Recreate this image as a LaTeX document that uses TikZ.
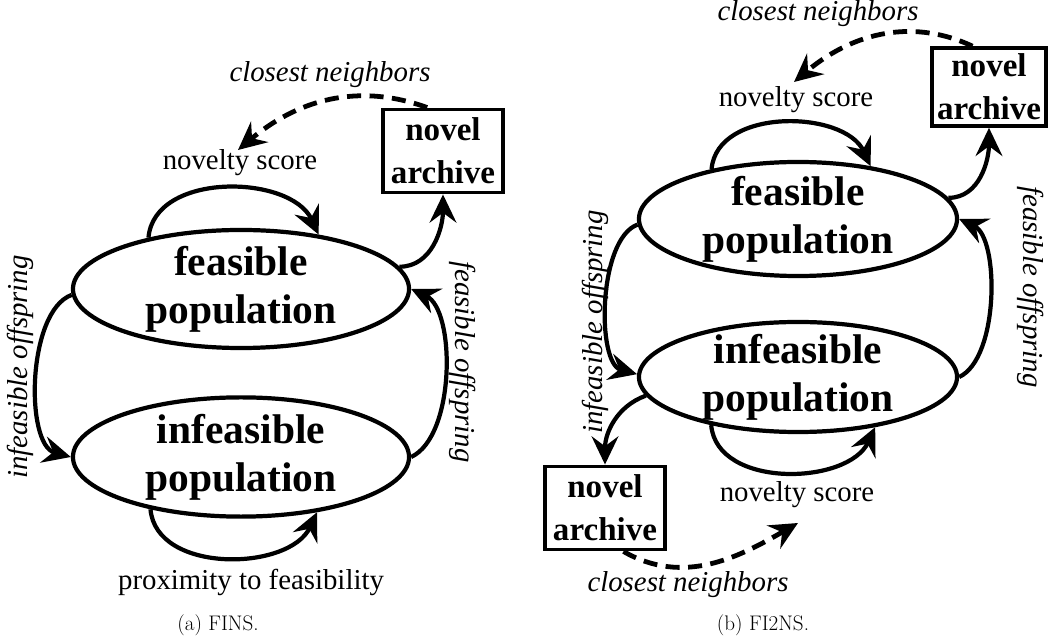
\documentclass[tikz,border=0pt]{standalone}
\usepackage{fontspec}
\usepackage{tikz}
\usetikzlibrary{shapes.geometric, arrows.meta, positioning}
\newfontfamily\tms{Liberation Serif}

\begin{document}
\begin{tikzpicture}[x=0.025cm, y=0.025cm,
    popul/.style={draw, ellipse, line width=3pt, inner sep=0pt, inner ysep=-4pt, align=center,
        font=\tms\bfseries\fontsize{29.5}{34}\selectfont},
    archbox/.style={draw, rectangle, line width=2.6pt, inner sep=0pt, align=center,
        minimum width=3cm, minimum height=2.08cm, font=\tms\bfseries\fontsize{23.5}{30.5}\selectfont},
    flow/.style={-{Stealth[length=20pt, width=19pt, inset=7pt]}, line width=3pt},
    nbr/.style={-{Stealth[length=20pt, width=19pt, inset=7pt]}, line width=3.4pt, dash pattern=on 10pt off 6pt},
    lbl/.style={font=\tms\fontsize{20.5}{24}\selectfont},
    ilbl/.style={font=\tms\itshape\fontsize{20.5}{24}\selectfont}]
    \useasboundingbox (0,0) rectangle (1048,639);

    % (a) FINS
    \node[popul, minimum width=8.4cm, minimum height=2.95cm] (feas1) at (241,350) {feasible\\population};
    \node[popul, minimum width=8.4cm, minimum height=2.98cm] (infeas1) at (241,182) {infeasible\\population};
    \node[archbox] (arch1) at (443,488) {novel\\archive};
    \coordinate (tip1) at (238,489);

    \draw[flow] (feas1.151) to[out=85, in=115] (feas1.35);
    \draw[flow] (infeas1.-150) to[out=-85, in=-115] (infeas1.-36);
    \draw[flow] (feas1.182) to[out=200, in=165, looseness=0.75] (infeas1.west);
    \draw[flow] (infeas1.east) to[out=25, in=-25, looseness=0.75] (feas1.east);
    \draw[flow] (feas1.8) to[out=0, in=-90] (arch1.south);
    \draw[nbr] (arch1.110) to[out=160, in=40] (tip1);

    \node[lbl] (nov1) at (240,476) {novelty score};
    \node[lbl] (prox) at (251,57) {proximity to feasibility};
    \node[ilbl] (clo1) at (330,564) {closest neighbors};
    \node[ilbl, rotate=90] (ioff1) at (20,272) {infeasible offspring};
    \node[ilbl, rotate=-90] (foff1) at (463,277) {feasible offspring};
    \node[font=\fontsize{15}{18}\selectfont] (capa) at (218,14) {(a) FINS.};

    % (b) FI2NS
    \node[popul, minimum width=7.95cm, minimum height=2.85cm] (feas2) at (798,420) {feasible\\population};
    \node[popul, minimum width=7.95cm, minimum height=2.75cm] (infeas2) at (798,262) {infeasible\\population};
    \node[archbox, minimum width=2.85cm, minimum height=1.95cm] (arch2) at (989,552) {novel\\archive};
    \node[archbox] (arch2b) at (605,131) {novel\\archive};
    \coordinate (tip2) at (794,557);
    \coordinate (tip3) at (798,116);

    \draw[flow] (feas2.150) to[out=85, in=115] (feas2.36);
    \draw[flow] (infeas2.-151) to[out=-85, in=-115] (infeas2.-33);
    \draw[flow] (feas2.182) to[out=200, in=165, looseness=0.72] (infeas2.179);
    \draw[flow] (infeas2.east) to[out=25, in=-25, looseness=0.72] (feas2.east);
    \draw[flow] (feas2.8) to[out=0, in=-90] (arch2.south);
    \draw[flow] (infeas2.-173) to[out=200, in=90] (arch2b.north);
    \draw[nbr] (arch2.112) to[out=155, in=40] (tip2);
    \draw[nbr] (arch2b.-67) to[out=-30, in=210] (tip3);

    \node[lbl] (nov2a) at (796,539) {novelty score};
    \node[lbl] (nov2b) at (797,144) {novelty score};
    \node[ilbl] (clo2a) at (818,625) {closest neighbors};
    \node[ilbl] (clo2b) at (688,54) {closest neighbors};
    \node[ilbl, rotate=90] (ioff2) at (595,317) {infeasible offspring};
    \node[ilbl, rotate=-90] (foff2) at (1031,352) {feasible offspring};
    \node[font=\fontsize{15}{18}\selectfont] (capb) at (763,14) {(b) FI2NS.};
\end{tikzpicture}
\end{document}
